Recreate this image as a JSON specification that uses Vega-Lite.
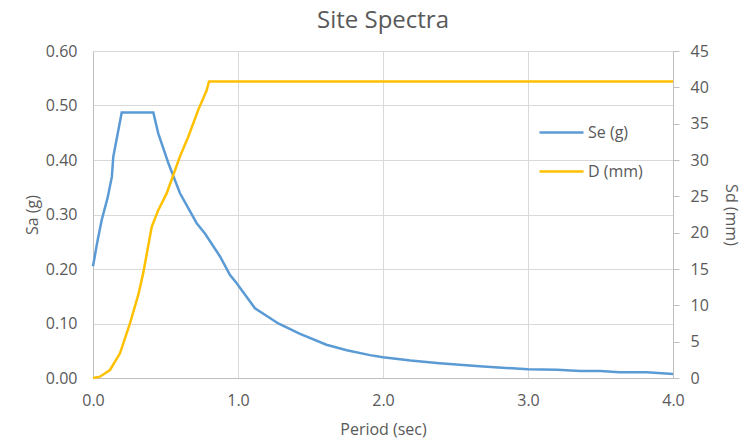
{
  "$schema": "https://vega.github.io/schema/vega-lite/v6.json",
  "width": 580,
  "height": 327,
  "autosize": {"type": "none"},
  "padding": {"left": 93, "top": 51, "right": 76, "bottom": 63},
  "background": "white",
  "title": {
    "text": "Site Spectra",
    "fontSize": 24,
    "font": "Open Sans",
    "fontWeight": "normal",
    "color": "#595959",
    "anchor": "middle",
    "offset": 10
  },
  "config": {
    "view": {"stroke": null},
    "font": "Open Sans",
    "axis": {
      "labelFont": "Open Sans",
      "titleFont": "Open Sans",
      "labelColor": "#595959",
      "titleColor": "#595959",
      "labelFontSize": 16,
      "titleFontSize": 16,
      "titleFontWeight": "normal",
      "gridColor": "#D9D9D9",
      "domainColor": "#BFBFBF",
      "tickColor": "#BFBFBF",
      "labelFlush": false,
      "labelOverlap": false
    }
  },
  "datasets": {
    "se": [
      {"T": 0.0, "Sa": 0.205, "series": "Se (g)"},
      {"T": 0.03, "Sa": 0.25, "series": "Se (g)"},
      {"T": 0.06, "Sa": 0.29, "series": "Se (g)"},
      {"T": 0.10, "Sa": 0.33, "series": "Se (g)"},
      {"T": 0.13, "Sa": 0.369, "series": "Se (g)"},
      {"T": 0.14, "Sa": 0.406, "series": "Se (g)"},
      {"T": 0.198, "Sa": 0.487, "series": "Se (g)"},
      {"T": 0.416, "Sa": 0.487, "series": "Se (g)"},
      {"T": 0.45, "Sa": 0.449, "series": "Se (g)"},
      {"T": 0.52, "Sa": 0.394, "series": "Se (g)"},
      {"T": 0.60, "Sa": 0.339, "series": "Se (g)"},
      {"T": 0.715, "Sa": 0.284, "series": "Se (g)"},
      {"T": 0.772, "Sa": 0.265, "series": "Se (g)"},
      {"T": 0.876, "Sa": 0.223, "series": "Se (g)"},
      {"T": 0.945, "Sa": 0.189, "series": "Se (g)"},
      {"T": 0.991, "Sa": 0.174, "series": "Se (g)"},
      {"T": 1.117, "Sa": 0.128, "series": "Se (g)"},
      {"T": 1.278, "Sa": 0.100, "series": "Se (g)"},
      {"T": 1.428, "Sa": 0.081, "series": "Se (g)"},
      {"T": 1.61, "Sa": 0.061, "series": "Se (g)"},
      {"T": 1.75, "Sa": 0.051, "series": "Se (g)"},
      {"T": 1.91, "Sa": 0.042, "series": "Se (g)"},
      {"T": 2.0, "Sa": 0.038, "series": "Se (g)"},
      {"T": 2.19, "Sa": 0.032, "series": "Se (g)"},
      {"T": 2.39, "Sa": 0.027, "series": "Se (g)"},
      {"T": 2.69, "Sa": 0.021, "series": "Se (g)"},
      {"T": 3.0, "Sa": 0.016, "series": "Se (g)"},
      {"T": 3.2, "Sa": 0.015, "series": "Se (g)"},
      {"T": 3.36, "Sa": 0.013, "series": "Se (g)"},
      {"T": 3.5, "Sa": 0.013, "series": "Se (g)"},
      {"T": 3.63, "Sa": 0.0104, "series": "Se (g)"},
      {"T": 3.82, "Sa": 0.0104, "series": "Se (g)"},
      {"T": 4.0, "Sa": 0.0075, "series": "Se (g)"}
    ],
    "d": [
      {"T": 0.0, "Sd": 0.0, "series": "D (mm)"},
      {"T": 0.048, "Sd": 0.18, "series": "D (mm)"},
      {"T": 0.117, "Sd": 1.1, "series": "D (mm)"},
      {"T": 0.186, "Sd": 3.4, "series": "D (mm)"},
      {"T": 0.255, "Sd": 7.5, "series": "D (mm)"},
      {"T": 0.313, "Sd": 11.5, "series": "D (mm)"},
      {"T": 0.347, "Sd": 14.5, "series": "D (mm)"},
      {"T": 0.405, "Sd": 20.8, "series": "D (mm)"},
      {"T": 0.45, "Sd": 23.1, "series": "D (mm)"},
      {"T": 0.508, "Sd": 25.4, "series": "D (mm)"},
      {"T": 0.6, "Sd": 30.5, "series": "D (mm)"},
      {"T": 0.657, "Sd": 33.2, "series": "D (mm)"},
      {"T": 0.726, "Sd": 36.9, "series": "D (mm)"},
      {"T": 0.784, "Sd": 39.6, "series": "D (mm)"},
      {"T": 0.80, "Sd": 40.8, "series": "D (mm)"},
      {"T": 4.0, "Sd": 40.8, "series": "D (mm)"}
    ]
  },
  "encoding": {
    "x": {
      "field": "T",
      "type": "quantitative",
      "scale": {"domain": [0, 4], "nice": false},
      "axis": {
        "title": "Period (sec)",
        "values": [0, 1, 2, 3, 4],
        "format": ".1f",
        "ticks": false,
        "labelPadding": 14,
        "titlePadding": 13,
        "grid": true
      }
    },
    "color": {
      "field": "series",
      "type": "nominal",
      "scale": {"domain": ["Se (g)", "D (mm)"], "range": ["#5B9BD5", "#FFC000"]},
      "legend": {
        "title": null,
        "orient": "none",
        "legendX": 445,
        "legendY": 58,
        "symbolType": "stroke",
        "symbolSize": 1936,
        "symbolStrokeWidth": 2.5,
        "labelFont": "Open Sans",
        "labelFontSize": 16,
        "labelColor": "#595959",
        "labelOffset": 3,
        "rowPadding": 7
      }
    }
  },
  "layer": [
    {
      "data": {"name": "se"},
      "mark": {"type": "line", "strokeWidth": 2.5},
      "encoding": {
        "y": {
          "field": "Sa",
          "type": "quantitative",
          "scale": {"domain": [0, 0.6], "nice": false},
          "axis": {
            "title": "Sa (g)",
            "orient": "left",
            "values": [0, 0.1, 0.2, 0.3, 0.4, 0.5, 0.6],
            "format": ".2f",
            "ticks": false,
            "labelPadding": 16,
            "titlePadding": 5,
            "grid": true
          }
        }
      }
    },
    {
      "data": {"name": "d"},
      "mark": {"type": "line", "strokeWidth": 2.5},
      "encoding": {
        "y": {
          "field": "Sd",
          "type": "quantitative",
          "scale": {"domain": [0, 45], "nice": false},
          "axis": {
            "title": "Sd (mm)",
            "orient": "right",
            "values": [0, 5, 10, 15, 20, 25, 30, 35, 40, 45],
            "ticks": true,
            "tickSize": 6,
            "labelPadding": 11,
            "titlePadding": 14,
            "grid": false
          }
        }
      }
    }
  ],
  "resolve": {"scale": {"y": "independent"}}
}
